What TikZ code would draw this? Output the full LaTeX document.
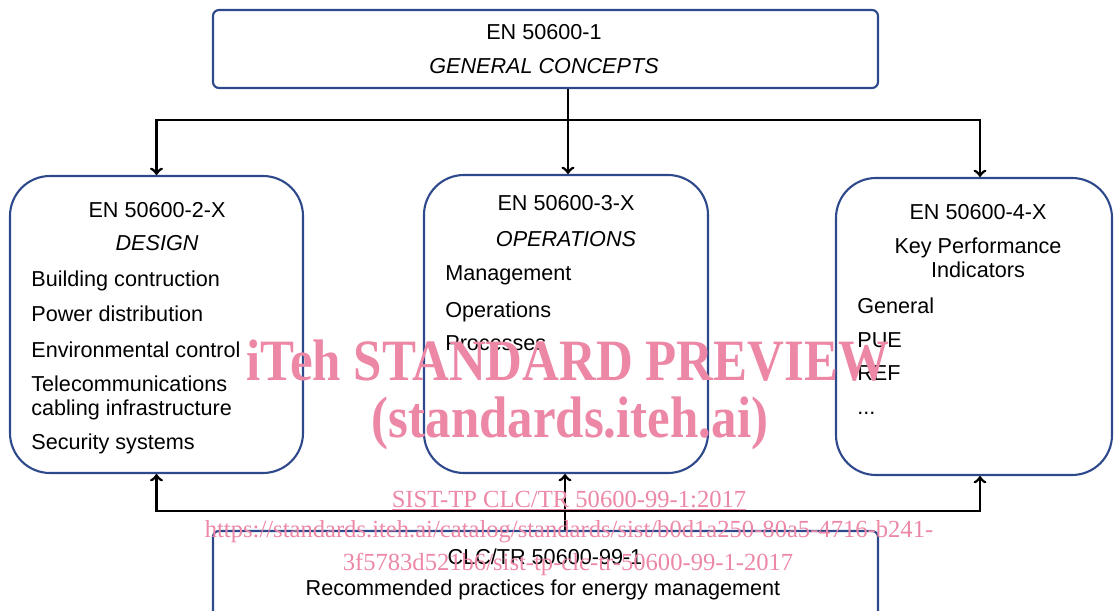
\documentclass[tikz,border=0pt]{standalone}
\usepackage{fontspec}
\setmainfont{Liberation Sans}
\newfontfamily\wmfont{Liberation Serif}
\definecolor{boxblue}{RGB}{46,72,140}
\definecolor{wmpink}{RGB}{236,136,166}

\begin{document}
\begin{tikzpicture}[
    box/.style={draw=boxblue, line width=1.2pt, rounded corners=0.8cm},
    flatbox/.style={draw=boxblue, line width=1.2pt, rounded corners=0.12cm},
    flow/.style={->, line width=1.6pt},
    txt/.style={font=\fontsize{12.3}{14}\selectfont, inner sep=0pt, text height=8.8pt, text depth=0pt},
    item/.style={txt, anchor=west},
    wmbig/.style={font=\wmfont\bfseries\fontsize{29}{30}\selectfont, text=wmpink, inner sep=0pt, anchor=base},
    wmsmall/.style={font=\wmfont\fontsize{14}{16}\selectfont, text=wmpink, inner sep=0pt, anchor=base}
]
    \useasboundingbox (0,0) rectangle (22.28,12.2);
    \clip (0,0) rectangle (22.28,12.2);

    % general concepts
    \node[flatbox, minimum width=13.3cm, minimum height=1.56cm] (general) at (10.91,11.22) {};
    \node[txt] (generalid) at (10.88,11.56) {EN 50600-1};
    \node[txt] (generaltitle) at (10.88,10.88) {\textit{GENERAL CONCEPTS}};

    % design
    \node[box, minimum width=5.86cm, minimum height=5.94cm] (design) at (3.13,5.71) {};
    \node[txt] (designid) at (3.14,8.0) {EN 50600-2-X};
    \node[txt] (designtitle) at (3.14,7.34) {\textit{DESIGN}};
    \node[item] (building) at (0.62,6.62) {Building contruction};
    \node[item] (power) at (0.62,5.92) {Power distribution};
    \node[item] (environment) at (0.62,5.2) {Environmental control};
    \node[item] (telecom) at (0.62,4.52) {Telecommunications};
    \node[item] (cabling) at (0.62,4.04) {cabling infrastructure};
    \node[item] (security) at (0.62,3.36) {Security systems};

    % operations
    \node[box, minimum width=5.68cm, minimum height=5.96cm] (ops) at (11.32,5.72) {};
    \node[txt] (opsid) at (11.32,8.14) {EN 50600-3-X};
    \node[txt] (opstitle) at (11.32,7.42) {\textit{OPERATIONS}};
    \node[item] (management) at (8.9,6.74) {Management};
    \node[item] (operations) at (8.9,6.0) {Operations};
    \node[item] (processes) at (8.9,5.34) {Processes};

    % key performance indicators
    \node[box, minimum width=5.52cm, minimum height=5.94cm] (kpi) at (19.48,5.67) {};
    \node[txt] (kpiid) at (19.56,7.96) {EN 50600-4-X};
    \node[txt] (kpititle) at (19.56,7.28) {Key Performance};
    \node[txt] (kpititletail) at (19.56,6.8) {Indicators};
    \node[item] (kpigeneral) at (17.14,6.08) {General};
    \node[item] (pue) at (17.14,5.4) {PUE};
    \node[item] (ref) at (17.14,4.74) {REF};
    \node[item] (more) at (17.14,4.06) {...};

    % recommended practices
    \node[flatbox, minimum width=13.3cm, minimum height=2.2cm] (clc) at (10.91,0.48) {};
    \node[txt] (clcid) at (10.9,1.06) {CLC/TR 50600-99-1};
    \node[txt] (clctitle) at (10.86,0.44) {Recommended practices for energy management};

    \coordinate (topjoin) at (11.36,9.8);
    \coordinate (botjoin) at (11.3,1.98);

    \draw[flow] (general.south -| topjoin) -- (ops.north -| topjoin);
    \draw[flow] (topjoin) -| (design.north);
    \draw[flow] (topjoin) -| ([xshift=0.12cm]kpi.north);
    \draw[flow] (clc.north -| botjoin) -- (ops.south -| botjoin);
    \draw[flow] (botjoin) -| (design.south);
    \draw[flow] (botjoin) -| ([xshift=0.12cm]kpi.south);

    % watermark
    \node[wmbig] (wmtitle) at (11.36,4.6) {\scalebox{1}[1.15]{iTeh STANDARD PREVIEW}};
    \node[wmbig] (wmsite) at (11.4,3.46) {\scalebox{1}[1.15]{(standards.iteh.ai)}};
    \node[wmsmall] (wmcode) at (11.38,2.06) {\underline{SIST-TP CLC/TR 50600-99-1:2017}};
    \node[wmsmall] (wmurl) at (11.38,1.46) {https://standards.iteh.ai/catalog/standards/sist/b0d1a250-80a5-4716-b241-};
    \node[wmsmall] (wmurltail) at (11.36,0.8) {3f5783d521b6/sist-tp-clc-tr-50600-99-1-2017};
\end{tikzpicture}
\end{document}
